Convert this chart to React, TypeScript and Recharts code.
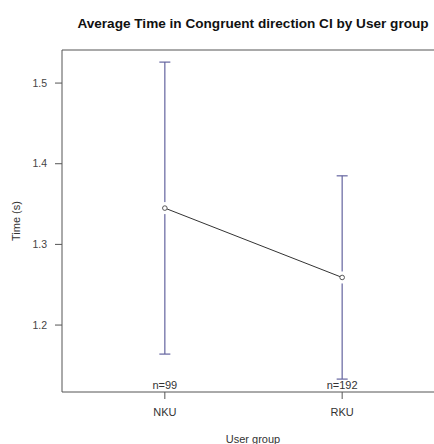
import React from 'react';
import { ComposedChart, Line, ErrorBar, XAxis, YAxis, ReferenceLine, Customized } from 'recharts';

// User groups, their mean response times and 95% CI bounds (seconds)
const groups = ['NKU', 'RKU'];
const counts = [99, 192];
const means = [1.345, 1.259];
const ciLow = [1.164, 1.133];
const ciHigh = [1.526, 1.385];
const yTicks = [1.2, 1.3, 1.4, 1.5];

const Y_MIN = 1.117;
const Y_MAX = 1.541;

const data = groups.map((g, i) => ({
  pos: i + 1,
  group: g,
  n: counts[i],
  mean: means[i],
  ci: [means[i] - ciLow[i], ciHigh[i] - means[i]],
}));

const FONT = '"Liberation Sans", Arial, sans-serif';
const TEXT = '#333';
const AXIS = '#555';
const BAR = '#64649f';

const MeanDot = (props: any) => {
  const { cx, cy, key } = props;
  if (cx == null || cy == null) return null;
  return (
    <g key={key}>
      <rect x={cx - 2} y={cy - 6} width={4} height={12} fill="#fff" />
      <circle cx={cx} cy={cy} r={2.3} fill="#fff" stroke="#555" strokeWidth={1} />
    </g>
  );
};

const GroupTick = (props: any) => {
  const { x, y, payload } = props;
  const idx = payload.value - 1;
  if (idx < 0 || idx >= groups.length) return null;
  return (
    <g>
      <text x={x} y={y - 10} textAnchor="middle" fontSize={11} fill={TEXT} fontFamily={FONT}>
        {`n=${counts[idx]}`}
      </text>
      <text x={x} y={y + 17} textAnchor="middle" fontSize={11} fill={TEXT} fontFamily={FONT}>
        {groups[idx]}
      </text>
    </g>
  );
};

const Titles = () => (
  <g fontFamily={FONT}>
    <text x={253} y={28} textAnchor="middle" fontSize={13.6} fontWeight="bold" fill="#111">
      Average Time in Congruent direction CI by User group
    </text>
    <text x={253} y={443} textAnchor="middle" fontSize={11} fill={TEXT}>
      User group
    </text>
    <text
      x={20}
      y={221}
      textAnchor="middle"
      fontSize={11}
      fill={TEXT}
      transform="rotate(-90 20 221)"
    >
      Time (s)
    </text>
  </g>
);

export default function App() {
  return (
    <div style={{ position: 'absolute', left: 0, top: 0, width: 434, height: 444, overflow: 'hidden', background: '#fff' }}>
      <ComposedChart
        width={446}
        height={444}
        data={data}
        margin={{ top: 50, right: 1, bottom: 22, left: 22 }}
      >
        <XAxis
          dataKey="pos"
          type="number"
          domain={[0.42, 2.58]}
          ticks={[1, 2]}
          height={30}
          tickSize={7}
          tickMargin={0}
          stroke={AXIS}
          tickLine={{ stroke: AXIS }}
          tick={<GroupTick />}
          allowDataOverflow
        />
        <YAxis
          type="number"
          domain={[Y_MIN, Y_MAX]}
          ticks={yTicks}
          width={40}
          tickSize={7}
          tickMargin={8}
          stroke={AXIS}
          tick={{ fontSize: 10.5, fill: '#444', fontFamily: FONT }}
          allowDataOverflow
        />
        <ReferenceLine y={Y_MAX} stroke={AXIS} ifOverflow="extendDomain" />
        <Line
          dataKey="mean"
          stroke="#333"
          strokeWidth={1}
          dot={<MeanDot />}
          activeDot={false}
          isAnimationActive={false}
        >
          <ErrorBar dataKey="ci" direction="y" width={5.5} stroke={BAR} strokeWidth={1.2} />
        </Line>
        <Customized component={<Titles />} />
      </ComposedChart>
    </div>
  );
}
